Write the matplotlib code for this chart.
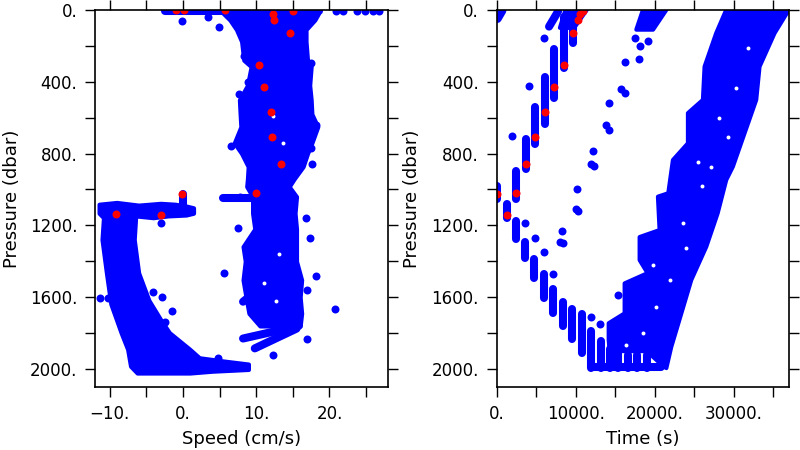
import matplotlib
matplotlib.use('Agg')
import matplotlib.pyplot as plt
from matplotlib.ticker import MultipleLocator, FuncFormatter

BLUE = '#0000ff'
RED = '#ff0000'

# ---- left panel: speed vs pressure ----
# dense main column, outer edges per pressure level
col_p = [20, 56, 110, 176, 280, 316, 420, 501, 580, 651, 741, 800, 873, 940, 984,
         1040, 1132, 1220, 1318, 1400, 1504, 1600, 1690, 1760]
col_left = [5.5, 6.4, 7.3, 8.0, 8.3, 9.3, 8.8, 7.7, 7.8, 7.9, 7.0, 8.0, 8.9, 8.8, 8.7,
            9.5, 9.5, 9.8, 8.2, 8.5, 8.2, 8.6, 9.0, 10.5]
col_right = [18.5, 18.0, 16.8, 16.8, 17.0, 17.5, 17.3, 17.5, 17.6, 18.4, 17.6, 17.0, 16.4, 15.2, 14.5,
             15.5, 15.3, 15.5, 15.5, 15.5, 16.2, 16.0, 16.2, 16.0]

# hook shaped cloud at the lower left (outline)
hook_s = [-11.4, -9.0, -6.0, -3.0, -1.0, 0.5, 1.5, 1.5, 0.5, -2.0, -4.0, -6.4, -6.6, -6.0, -4.6, -3.0,
          -1.8, 1.0, 2.3, 6.0, 9.0, 9.0, 4.0, 1.0, -6.2, -7.1, -7.5, -8.4, -9.8, -10.4, -11.0, -10.8, -11.4]
hook_p = [1085, 1075, 1090, 1080, 1085, 1095, 1105, 1135, 1145, 1150, 1160, 1150, 1282, 1467, 1620, 1727,
          1800, 1893, 1940, 1960, 1975, 2005, 2015, 2025, 2025, 1987, 1893, 1800, 1640, 1467, 1282, 1160, 1135]

# streaks of overlapping markers (centre to centre)
ls_s0 = [-2.4, 0.0, 5.5, 8.2, 9.8, 8.2]
ls_p0 = [5, 1025, 1045, 1830, 1885, 1625]
ls_s1 = [18.6, 0.0, 9.5, 15.8, 15.5, 10.5]
ls_p1 = [5, 1090, 1045, 1760, 1775, 1550]

# single blue points
lo_s = [-0.1, 3.4, 4.9, 8.3, 20.9, 21.8, 23.8, 24.8, 25.9, 26.8, 7.5, 5.55, 17.3, 18.2, 20.8,
        12.3, 4.8, -0.7, -2.9, -1.45, -2.4, -4.1, -11.4, -10.2, -2.95,
        17.5, 18.2, 17.5, 8.9, 7.5, 7.8, 16.9, 7.6, 6.6, 16.8, 16.9, 17.6]
lo_p = [60, 40, 97, 256, 5, 5, 5, 5, 5, 5, 1216, 1463, 1272, 1482, 1667,
        1922, 1941, 1879, 1601, 1675, 1738, 1569, 1603, 1603, 1185,
        296, 641, 770, 399, 733, 1040, 1830, 470, 760, 1160, 1560, 860]

# small gaps inside the clouds
lh_s = [12.3, 13.6, 13.1, 11.0, 12.7]
lh_p = [590, 743, 1360, 1520, 1620]

# red points
lr_s = [-0.9, 0.1, 5.7, 12.3, 12.4, 15.0, 14.6, 10.4, 11.05, 12.05, 12.2, 13.4, 9.9, -0.1, -2.95, -9.2]
lr_p = [0, 0, 0, 24, 59, 5, 130, 306, 431, 566, 709, 858, 1018, 1027, 1142, 1137]

# ---- right panel: time vs pressure ----
band_t = [29070, 27800, 26330, 26120, 24220, 24220, 22320, 21730, 20420, 20630, 18100, 18100,
          19110, 16200, 16200, 14180, 14180, 14300, 16500, 19000, 20500, 21480,
          22110, 23380, 24640, 26540, 27980, 29070, 29910, 31390, 32870, 33290, 35190, 37000]
band_p = [0, 130, 316, 501, 575, 743, 836, 1021, 1040, 1226, 1265, 1393,
          1466, 1523, 1690, 1745, 1838, 1900, 1900, 1900, 1960, 1995,
          1876, 1690, 1504, 1319, 1133, 947, 873, 687, 501, 316, 130, 0]

top1_t = [8000, 9800, 11400, 8700]
top1_p = [100, 100, 0, 0]
top2_t = [17680, 19800, 21480, 18520]
top2_p = [110, 110, 0, 0]

# vertical streaks: time, top and bottom pressure
vs_t = [0, 2490, 3670, 4890, 6080, 7260, 8480, 9660,
        1230, 2400, 3540, 4730, 5950, 7130, 8400, 9580, 10840, 11990, 13250, 14300, 15360, 16620, 17820, 19090]
vs_top = [980, 895, 720, 542, 375, 217, 41, 30,
          1080, 1173, 1294, 1387, 1470, 1554, 1627, 1665, 1693, 1787, 1844, 1890, 1900, 1920, 1920, 1920]
vs_bot = [1055, 1055, 888, 748, 638, 488, 322, 183,
          1158, 1278, 1383, 1493, 1606, 1688, 1761, 1833, 1911, 1994, 1994, 1994, 1994, 1994, 1994, 1994]

# slanted streaks
rs_t0 = [100, 6620, 12270]
rs_p0 = [50, 93, 1991]
rs_t1 = [700, 7760, 20770]
rs_p1 = [5, 9, 1991]

ro_t = [4090, 1980, 5990, 14220, 13900, 14220, 12190, 11950, 12370, 10170, 10000, 10340,
        8270, 8060, 8390, 5950, 7130, 3590, 4810, 11980, 13040, 15780, 16200, 16250,
        17470, 18190, 17970, 19110, 22400, 21000, 15300, 27300, 25800]
ro_p = [423, 702, 154, 516, 640, 670, 786, 860, 870, 995, 1110, 1120,
        1231, 1294, 1300, 1348, 1471, 1188, 1272, 1708, 1749, 440, 462, 288,
        157, 200, 273, 175, 900, 1140, 1590, 430, 1230]

# small gaps inside the big band
rh_t = [24010, 20210, 21900, 16410, 18520, 23590, 30340, 31820, 29280, 27170, 25490, 26000, 19800, 28200]
rh_p = [1326, 1653, 1504, 1866, 1801, 1189, 436, 213, 706, 873, 845, 983, 1420, 600]

rr_t = [0, 1230, 2490, 3670, 4890, 6080, 7260, 8480, 9660, 10290, 10590, 10900]
rr_p = [1027, 1142, 1018, 858, 709, 566, 431, 306, 130, 59, 22, 5]

MS = 33      # marker area
LW = 5.8     # streak width = marker diameter in points
EW = 3.0     # outline width of the dense clouds


def fmt(v, pos):
    s = '%d.' % round(v)
    return s.replace('-', '\u2212')


def style(ax, xmaj, xmin):
    ax.set_ylim(2100, 0)
    ax.xaxis.set_major_locator(MultipleLocator(xmaj))
    ax.xaxis.set_minor_locator(MultipleLocator(xmin))
    ax.yaxis.set_major_locator(MultipleLocator(400))
    ax.yaxis.set_minor_locator(MultipleLocator(200))
    ax.xaxis.set_major_formatter(FuncFormatter(fmt))
    ax.yaxis.set_major_formatter(FuncFormatter(fmt))
    ax.tick_params(which='both', direction='out', top=True, right=True,
                   length=7, width=1, labelsize=12, pad=6)
    for sp in ax.spines.values():
        sp.set_linewidth(1.2)
        sp.set_zorder(6)
    ax.set_ylabel('Pressure (dbar)', fontsize=13)


fig = plt.figure(figsize=(8, 4.5), dpi=100)
ax1 = fig.add_axes([0.119, 0.140, 0.366, 0.838])
ax2 = fig.add_axes([0.621, 0.140, 0.365, 0.838])

# left
ax1.fill_betweenx(col_p, col_left, col_right, facecolor=BLUE, edgecolor=BLUE, lw=EW,
                  joinstyle='round', zorder=2)
ax1.fill(hook_s, hook_p, facecolor=BLUE, edgecolor=BLUE, lw=EW, joinstyle='round', zorder=2)
for i in range(len(ls_s0)):
    ax1.plot([ls_s0[i], ls_s1[i]], [ls_p0[i], ls_p1[i]], color=BLUE, lw=LW,
             solid_capstyle='round', zorder=3)
ax1.scatter(lo_s, lo_p, s=MS, color=BLUE, lw=0, zorder=3)
ax1.scatter(lh_s, lh_p, s=8, color='white', lw=0, zorder=3.5)
ax1.scatter(lr_s, lr_p, s=MS, color=RED, lw=0, zorder=4)
ax1.set_xlim(-12, 28)
style(ax1, 10, 5)
ax1.yaxis.set_label_coords(-0.252, 0.5)
ax1.set_xlabel('Speed (cm/s)', fontsize=13)
ax1.xaxis.set_label_coords(0.5, -0.115)

# right
ax2.fill(band_t, band_p, facecolor=BLUE, edgecolor=BLUE, lw=EW, joinstyle='round', zorder=2)
ax2.fill(top1_t, top1_p, facecolor=BLUE, edgecolor=BLUE, lw=EW, joinstyle='round', zorder=2)
ax2.fill(top2_t, top2_p, facecolor=BLUE, edgecolor=BLUE, lw=EW, joinstyle='round', zorder=2)
ax2.vlines(vs_t, vs_top, vs_bot, color=BLUE, lw=LW, capstyle='round', zorder=3)
for i in range(len(rs_t0)):
    ax2.plot([rs_t0[i], rs_t1[i]], [rs_p0[i], rs_p1[i]], color=BLUE, lw=LW,
             solid_capstyle='round', zorder=3)
ax2.scatter(ro_t, ro_p, s=MS, color=BLUE, lw=0, zorder=3)
ax2.scatter(rh_t, rh_p, s=8, color='white', lw=0, zorder=3.5)
ax2.scatter(rr_t, rr_p, s=MS, color=RED, lw=0, zorder=4)
ax2.set_xlim(0, 37000)
style(ax2, 10000, 5000)
ax2.yaxis.set_label_coords(-0.26, 0.5)
ax2.set_xlabel('Time (s)', fontsize=13)
ax2.xaxis.set_label_coords(0.5, -0.115)

fig.savefig('out.png', dpi=100)
